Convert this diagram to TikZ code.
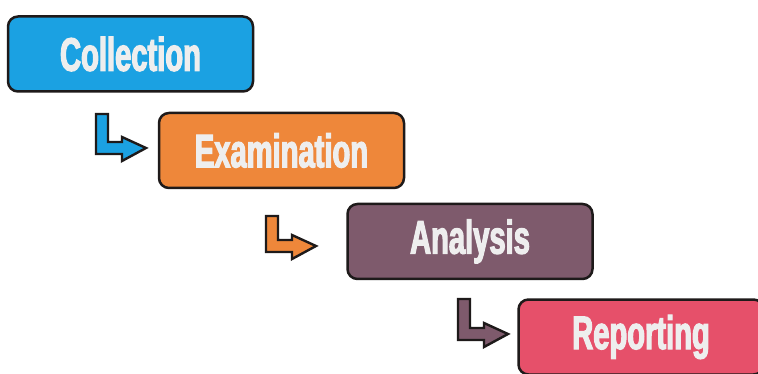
\documentclass[tikz,border=0pt]{standalone}
\usepackage{fontspec}
\newfontfamily\boxfont[FakeStretch=0.62,FakeBold=2.5]{Liberation Sans}
\usetikzlibrary{backgrounds}
\definecolor{cblue}{RGB}{27,161,226}
\definecolor{corange}{RGB}{238,135,58}
\definecolor{cpurple}{RGB}{126,90,108}
\definecolor{cred}{RGB}{230,80,106}
\definecolor{cedge}{RGB}{30,26,26}
\definecolor{ctext}{RGB}{238,238,238}
\tikzset{
  stagebox/.style={draw=cedge, line width=2.5pt, rounded corners=10pt,
    minimum width=245pt, minimum height=75pt, inner sep=0pt,
    text=ctext, font=\boxfont\bfseries\fontsize{47}{47}\selectfont},
  arrowline/.style={draw=cedge, line width=2.4pt, line join=miter},
  pics/larrow/.style 2 args={code={
    \filldraw[arrowline, fill=#1] (0,0) -- (12,0) -- (12,#2) -- (26,#2) -- (26,#2-5)
      -- (50,#2+6) -- (26,#2+19) -- (26,#2+12) -- (0,#2+12) -- cycle;}}
}
\begin{document}
\begin{tikzpicture}[x=1pt,y=-1pt]
  \clip (0,0) rectangle (758,374);
  \fill[white] (0,0) rectangle (758,374);
  \node[stagebox, fill=cblue]   (col) at (130.5,54)  {Collection};
  \node[stagebox, fill=corange] (exa) at (281.5,150.5) {Examination};
  \node[stagebox, fill=cpurple] (ana) at (470,241.5) {Analysis};
  \node[stagebox, fill=cred]    (rep) at (641,337)   {Reporting};
  \begin{scope}[on background layer]
    \foreach \n in {col,exa,ana,rep}{
      \foreach \k in {1,...,6}{
        \fill[black, opacity=0.05, rounded corners=12pt]
          ([shift={(6-\k,6-\k)}]\n.north west) rectangle ([shift={(5+\k,5+\k)}]\n.south east);
      }
    }
  \end{scope}
  \coordinate (a1) at (96,114);
  \coordinate (a2) at (266,216);
  \coordinate (a3) at (458,299);
  \pic at (a1) {larrow={cblue}{28}};
  \pic at (a2) {larrow={corange}{24}};
  \pic at (a3) {larrow={cpurple}{29}};
\end{tikzpicture}
\end{document}
